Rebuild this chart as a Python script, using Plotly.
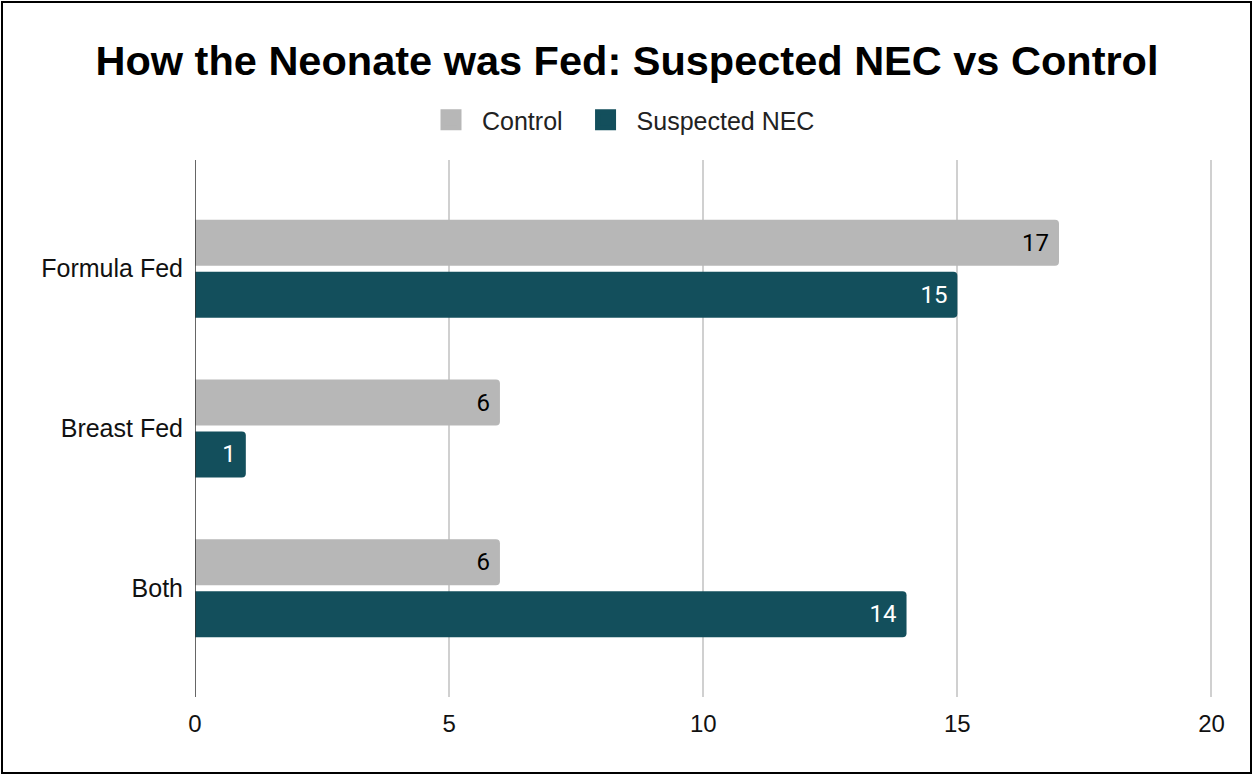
import plotly.graph_objects as go

categories = ["Formula Fed", "Breast Fed", "Both"]
control = [17, 6, 6]
suspected_nec = [15, 1, 14]
x_ticks = [0, 5, 10, 15, 20]

W, H = 1254, 775
ml, mr, mt, mb = 195, 41, 160, 78
pw, ph = W - ml - mr, H - mt - mb

C_CONTROL = "#b7b7b7"
C_NEC = "#134f5c"
FONT = "Liberation Sans, Arial"

fig = go.Figure()
fig.add_trace(go.Bar(
    y=categories, x=control, name="Control", orientation="h",
    marker=dict(color=C_CONTROL, line=dict(width=0)),
    text=control, texttemplate="%{x}\u00a0", textposition="inside", insidetextanchor="end",
    textfont=dict(family="Roboto", size=24, color="#000000"),
    showlegend=False, legendgroup="c",
))
fig.add_trace(go.Bar(
    y=categories, x=suspected_nec, name="Suspected NEC", orientation="h",
    marker=dict(color=C_NEC, line=dict(width=0)),
    text=suspected_nec, texttemplate="%{x}\u00a0", textposition="inside", insidetextanchor="end",
    textfont=dict(family="Roboto", size=24, color="#ffffff"),
    showlegend=False, legendgroup="n",
))
# legend entries with larger square swatches
for name, col, grp in [("Control\u00a0", C_CONTROL, "c"), ("Suspected NEC", C_NEC, "n")]:
    fig.add_trace(go.Scatter(
        x=[None], y=[None], mode="markers", name=name, legendgroup=grp,
        marker=dict(symbol="square", size=16, color=col, line=dict(color=col, width=5)),
    ))

def px_x(p):
    return (p - ml) / pw

def px_y(p):
    return 1 - (p - mt) / ph

fig.update_layout(
    width=W, height=H,
    margin=dict(l=ml, r=mr, t=mt, b=mb),
    paper_bgcolor="white", plot_bgcolor="white",
    barmode="group", bargap=0.35, bargroupgap=0.115, barcornerradius=4,
    title=dict(text="<b>How the Neonate was Fed: Suspected NEC vs Control</b>",
               x=0.5, xanchor="center", xref="container",
               y=1 - 60 / H, yanchor="middle", yref="container",
               font=dict(family=FONT, size=41.5, color="#000000")),
    legend=dict(orientation="h", x=0.5 - 7 / W, xanchor="center", xref="container",
                y=1 - 120 / H, yanchor="middle", yref="container",
                font=dict(family=FONT, size=25, color="#222222"),
                itemwidth=52, traceorder="normal", itemsizing="trace"),
    xaxis=dict(range=[0, 20.03], tickvals=x_ticks, showgrid=True, gridcolor="#d0d0d0",
               gridwidth=1.5, zeroline=False, showline=False, ticks="",
               tickfont=dict(family=FONT, size=24, color="#111111"),
               ticklabelstandoff=10),
    yaxis=dict(autorange=False, range=[2.68, -0.68], showgrid=False,
               showline=False, ticks="", zeroline=False,
               tickfont=dict(family=FONT, size=25, color="#111111"),
               ticklabelstandoff=11),
    showlegend=True,
)

# vertical axis line at x = 0
fig.add_shape(type="line", xref="x", yref="paper", x0=0, x1=0, y0=0, y1=1,
              line=dict(color="#333333", width=1.5))
# outer border around the whole chart
fig.add_shape(type="rect", xref="paper", yref="paper",
              x0=px_x(2), x1=px_x(1251), y0=px_y(773), y1=px_y(2),
              line=dict(color="#000000", width=2), fillcolor="rgba(0,0,0,0)")

fig.write_html("out.html", config={"displayModeBar": False},
               post_script="document.body.style.margin='0';document.body.style.overflow='hidden';")
